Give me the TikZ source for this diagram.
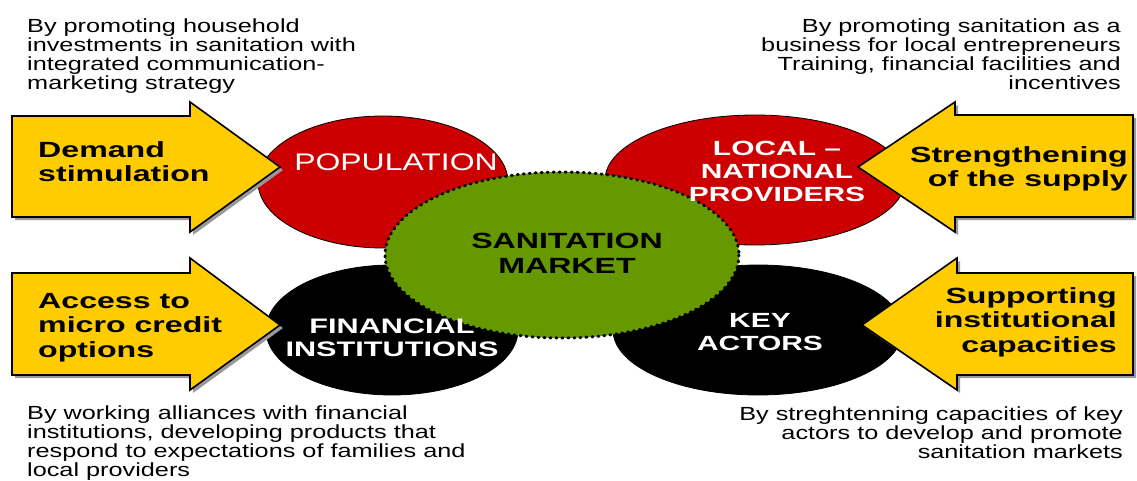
\documentclass[tikz,border=0pt]{standalone}
\usepackage{fontspec}
\setmainfont{Liberation Sans}
\newfontfamily\notefont[FakeStretch=1.33]{Liberation Sans}
\newfontfamily\headfont[FakeStretch=1.46]{Liberation Sans}
\usetikzlibrary{shapes.geometric, shadows, positioning}
\definecolor{arrowyellow}{HTML}{FFCC00}
\definecolor{blobred}{HTML}{CC0000}
\definecolor{blobgreen}{HTML}{669900}

\begin{document}
\begin{tikzpicture}[x=1pt, y=-1pt,
    blob/.style={ellipse, draw=black, line width=0.8pt, inner sep=0pt},
    pusharrow/.style={fill=arrowyellow, draw=black, line width=1.6pt, line join=miter,
        drop shadow={shadow xshift=3pt, shadow yshift=-3pt, fill=black!40, opacity=1}},
    note/.style={font=\notefont\fontsize{19}{19}\selectfont, inner sep=0pt},
    head/.style={font=\headfont\bfseries\fontsize{22}{24.5}\selectfont, inner sep=0pt},
    blobtext/.style={font=\headfont\bfseries\fontsize{20.5}{23}\selectfont, inner sep=0pt, align=center}]
    \useasboundingbox (0,0) rectangle (1137,481);

    % the four actors
    \node[blob, fill=blobred, minimum width=250, minimum height=132] (pop) at (383,182) {};
    \node[blob, fill=blobred, minimum width=300, minimum height=130] (prov) at (755,180) {};
    \node[blob, fill=black, minimum width=252, minimum height=130] (fin) at (392,330) {};
    \node[blob, fill=black, minimum width=290, minimum height=130] (key) at (758,330) {};

    % the market in the middle
    \node[ellipse, fill=blobgreen, minimum width=354, minimum height=166] (market) at (562,255) {};
    \draw[line width=3pt, line cap=round, dash pattern=on 1pt off 5pt] (market.center) ellipse [x radius=177, y radius=83];

    \node[font=\notefont\fontsize{24}{24}\selectfont, white, inner sep=0pt] (poptext) at (396,162) {POPULATION};
    \node[blobtext, white] (provtext) at (777,171) {LOCAL –\\NATIONAL\\PROVIDERS};
    \node[blobtext, white, font=\headfont\bfseries\fontsize{21}{23}\selectfont] (fintext) at (392,338) {FINANCIAL\\INSTITUTIONS};
    \node[blobtext, white] (keytext) at (760,332) {KEY\\ACTORS};
    \node[blobtext, black, font=\headfont\bfseries\fontsize{22}{25}\selectfont] (markettext) at (567,253) {SANITATION\\MARKET};

    % big arrows
    \draw[pusharrow] (12,116) -- (190,116) -- (190,102) -- (280,167) -- (190,232) -- (190,217) -- (12,217) -- cycle;
    \draw[pusharrow] (12,273) -- (190,273) -- (190,258) -- (280,325) -- (190,390) -- (190,375) -- (12,375) -- cycle;
    \draw[pusharrow] (1133,115) -- (955,115) -- (955,102) -- (858,167) -- (955,232) -- (955,217) -- (1133,217) -- cycle;
    \draw[pusharrow] (1133,273) -- (957,273) -- (957,258) -- (862,325) -- (957,390) -- (957,375) -- (1133,375) -- cycle;

    \node[head, align=left, anchor=base west] (demand) at (38,182) {Demand\\stimulation};
    \node[head, align=left, anchor=base west] (credit) at (38,357) {Access to\\micro credit\\options};
    \node[head, align=right, anchor=base east] (supply) at (1128,187) {Strengthening\\of the supply};
    \node[head, align=right, anchor=base east] (support) at (1117,352) {Supporting\\institutional\\capacities};

    % notes in the corners
    \node[note, align=left, anchor=base west] (demandnote) at (27,90) {By promoting household\\investments in sanitation with\\integrated communication-\\marketing strategy};
    \node[note, align=right, anchor=base east] (supplynote) at (1121,90) {By promoting sanitation as a\\business for local entrepreneurs\\Training, financial facilities and\\incentives};
    \node[note, align=left, anchor=base west] (creditnote) at (27,476) {By working alliances with financial\\institutions, developing products that\\respond to expectations of families and\\local providers};
    \node[note, align=right, anchor=base east] (supportnote) at (1123,458) {By streghtenning capacities of key\\actors to develop and promote\\sanitation markets};
\end{tikzpicture}
\end{document}
